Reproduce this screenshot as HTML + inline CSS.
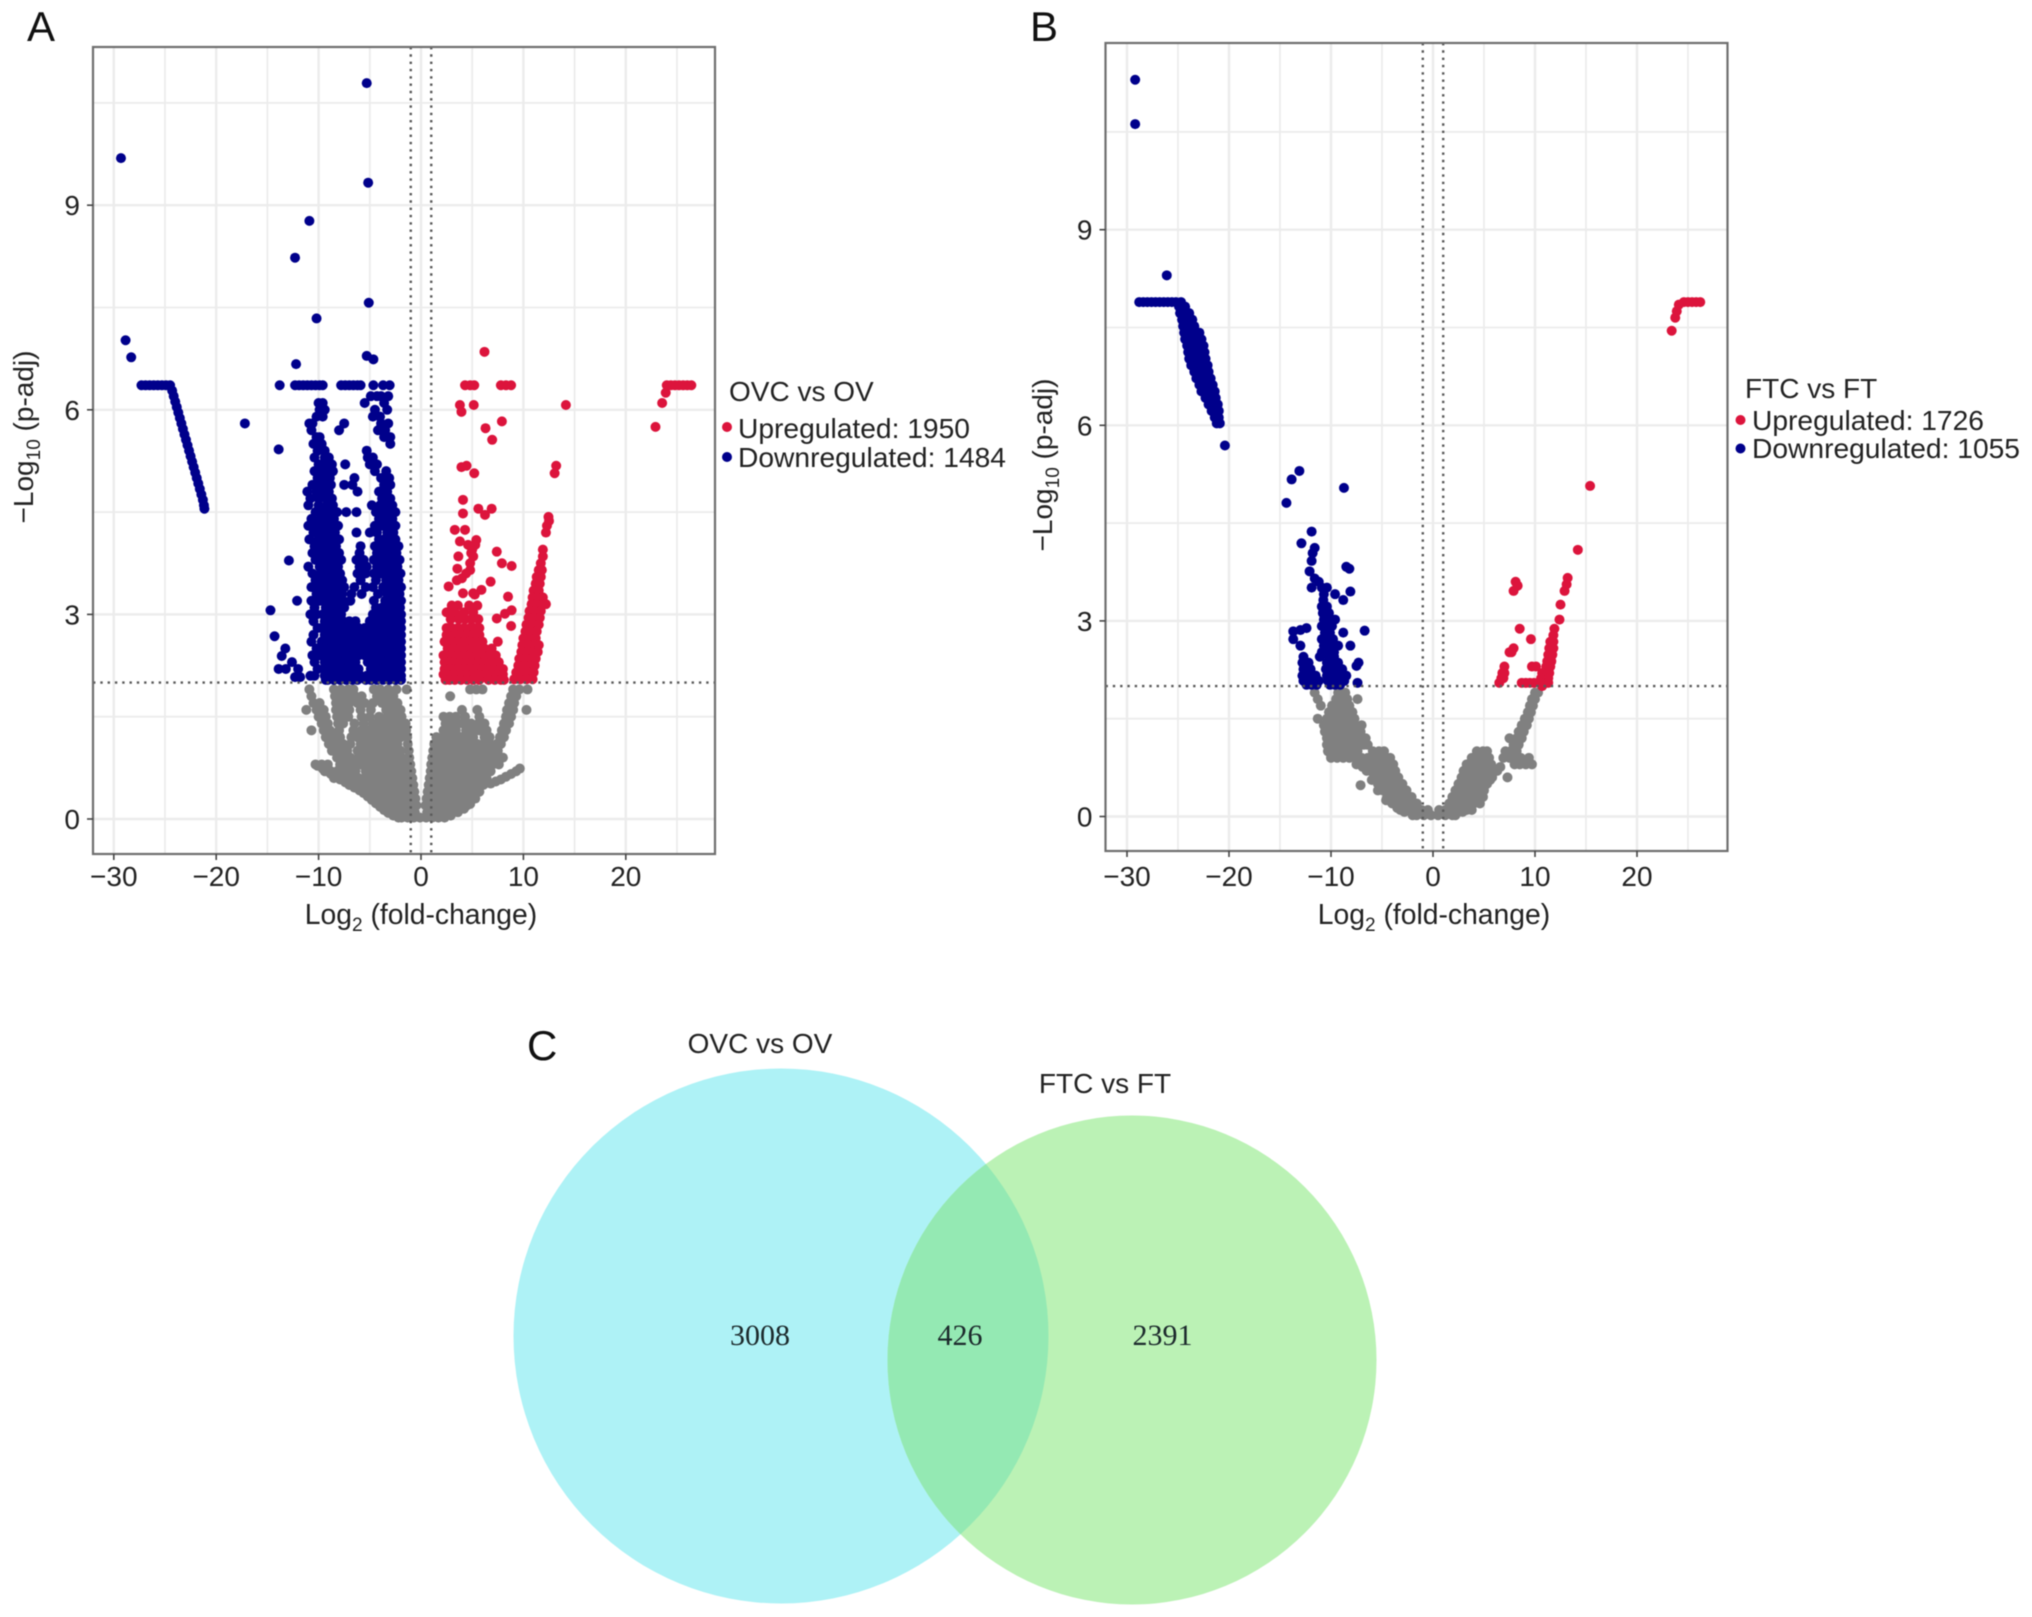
<!DOCTYPE html>
<html>
<head>
<meta charset="utf-8">
<style>
html,body{margin:0;padding:0;background:#fff;}
svg{display:block;font-family:"Liberation Sans",Arial,sans-serif;filter:blur(0.6px);}
</style>
</head>
<body>
<svg id="figure" xmlns="http://www.w3.org/2000/svg" width="2032" height="1617" viewBox="0 0 2032 1617">
<rect width="2032" height="1617" fill="#fff"/>
<g id="panelA"></g>
<g id="panelB"></g>
<text x="27" y="41" font-size="42" fill="#111">A</text>
<text x="1030" y="41" font-size="42" fill="#111">B</text>
<text x="527" y="1060" font-size="42" fill="#111">C</text>

<text x="729" y="401" font-size="28" fill="#222">OVC vs OV</text>
<circle cx="727" cy="427" r="5" fill="#dc143c"/>
<text x="738" y="438" font-size="28.2" fill="#222">Upregulated: 1950</text>
<circle cx="727" cy="457" r="5" fill="#00008b"/>
<text x="738" y="467" font-size="28.2" fill="#222">Downregulated: 1484</text>

<text x="1745" y="398" font-size="28" fill="#222">FTC vs FT</text>
<circle cx="1740.5" cy="420" r="5" fill="#dc143c"/>
<text x="1752" y="430" font-size="28.2" fill="#222">Upregulated: 1726</text>
<circle cx="1740.5" cy="448.5" r="5" fill="#00008b"/>
<text x="1752" y="458" font-size="28.2" fill="#222">Downregulated: 1055</text>

<g>
<defs><clipPath id="vennClip"><circle cx="781" cy="1336" r="267.5"/></clipPath></defs>
<circle cx="781" cy="1336" r="267.5" fill="#aef2f6"/>
<circle cx="1132" cy="1360" r="244.5" fill="#bbf2b5"/>
<circle cx="1132" cy="1360" r="244.5" fill="#94e9b3" clip-path="url(#vennClip)"/>
<text x="760" y="1053" font-size="28" fill="#222" text-anchor="middle">OVC vs OV</text>
<text x="1105" y="1093" font-size="28" fill="#222" text-anchor="middle">FTC vs FT</text>
<text x="760" y="1345" font-size="30" fill="#1c2a2c" text-anchor="middle" style="font-family:'Liberation Serif',serif">3008</text>
<text x="960" y="1345" font-size="30" fill="#1c2a2c" text-anchor="middle" style="font-family:'Liberation Serif',serif">426</text>
<text x="1162.5" y="1345" font-size="30" fill="#1c2a2c" text-anchor="middle" style="font-family:'Liberation Serif',serif">2391</text>
</g>
</svg>
<script>
// Tick and grid values
const xTicks = [-30,-20,-10,0,10,20];
const xGrid = [-30,-25,-20,-15,-10,-5,0,5,10,15,20,25];
const yTicks = [0,3,6,9];
const yGrid = [0,1.5,3,4.5,6,7.5,9,10.5];
const xThresholds = [-1,1];
const yThreshold = [2];

// Each row: first number is -log10(p-adj), the rest are log2(fold-change) values
const aGreyRows = [
[.02,-2.2,-1.9,-1.3,-.7,-.1,.5,1.1,1.7,2.3],
[.05,-2.7,2.9],[.09,-3.2],[.13,-3.6],[.18,-4],[.23,-4.4],[.28,-4.8],[.33,-5.2],[.38,-5.6],[.42,-6],[.46,-6.5],[.5,-7],[.54,-7.4],[.58,-7.9],[.62,-8.4],[.66,-8.8],[.7,-9.2],[.74,-9.6],[.78,-10.1],
[.15,4.2],[.22,4.8],[.3,5.3],[.4,5.7],[.5,6.1],[.6,6.4],
[.1,-3,-2.4,-1.8,-1.2,-.6,.6,1.2,1.8,2.4,3,3.6],
[.2,-4,-3.4,-2.8,-2.2,-1.6,-1,-.45,.45,1,1.6,2.2,2.8,3.4,4,4.5],
[.3,-4.7,-4.1,-3.5,-2.9,-2.3,-1.7,-1.1,-.55,.55,1.1,1.7,2.3,2.9,3.5,4.1,4.7,5.1],
[.4,-5.7,-5.1,-4.5,-3.9,-3.3,-2.7,-2.1,-1.5,-1,-.65,.65,1.2,1.8,2.4,3,3.6,4.2,4.8,5.4],
[.5,-7,-6.4,-5.8,-5.2,-4.6,-4,-3.4,-2.8,-2.2,-1.6,-1.1,-.75,.75,1.3,1.9,2.5,3.1,3.7,4.3,4.9,5.5,5.9],
[.52,6.8],[.55,7.3],[.58,7.8],[.62,8.3],[.66,8.8],[.7,9.3],[.74,9.65],
[.6,-8.5,-7.9,-7.3,-6.7,-6.1,-5.5,-4.9,-4.3,-3.7,-3.1,-2.5,-1.9,-1.3,-.85,.85,1.4,2,2.6,3.2,3.8,4.4,5,5.6,6.2],
[.7,-9.4,-8.8,-8.2,-7.6,-7,-6.4,-5.4,-4.8,-4.2,-3.6,-3,-2.4,-1.8,-1.3,-.95,.95,1.5,2.1,2.7,3.3,3.9,4.5,5.1,5.7,6.3,6.8],
[.8,-10.3,-9.7,-9.1,-7.9,-7.2,-6.5,-5.9,-5.3,-4.7,-4.1,-3.5,-2.9,-2.3,-1.7,-1.05,1,1.6,2.2,2.8,3.4,4,4.6,5.2,5.8,6.4,7,7.6],
[.9,-8.2,-7.5,-6.9,-6.1,-5.5,-4.9,-4.3,-3.7,-3.1,-2.5,-1.9,-1.15,1.1,1.7,2.3,2.9,3.5,4.1,4.7,5.3,5.9,6.5,7.1,7.7,8],
[1,-8.7,-8,-7.2,-6.2,-5.6,-5,-4.4,-3.8,-3.2,-2.6,-2,-1.2,1.2,1.8,2.4,3,3.6,4.2,4.8,5.4,6,6.6,7.1,7.5],
[1.1,-9,-8.3,-7.6,-6.9,-5.9,-5.3,-4.7,-4.1,-3.5,-2.9,-2.3,-1.3,1.3,1.9,2.5,3.1,3.7,4.3,4.9,5.5,6.1,6.7,7.4,7.8],
[1.2,-9.3,-8.6,-7.9,-6.8,-6.2,-5.6,-5,-4.4,-3.8,-3.2,-2.6,-2,-1.35,1.5,2.1,2.7,3.3,3.9,4.5,5.1,6.2,6.7,7.7,8.1],
[1.3,-10.7,-9.5,-8.9,-8,-6.6,-5.8,-5.2,-4.5,-3.9,-3.3,-2.7,-2.1,-1.45,2.2,2.8,3.4,4.4,5,5.7,6.4,7.9,8.3],
[1.4,-9.7,-9.1,-8.1,-7.6,-6.5,-5.6,-4.7,-3.9,-3.2,-2.6,-1.9,-1.5,2.4,3,3.7,4.1,4.9,5.6,6.2,8.1,8.6],
[1.5,-10,-9.3,-8.2,-7.7,-7.1,-5.8,-5,-4.1,-3.3,-2.6,-1.9,2.2,2.8,3.4,4.3,5.7,8.3,8.8],
[1.6,-11.2,-10.2,-9.5,-8.3,-7.6,-7,-5.9,-4.9,-3.4,-2.7,-2,4,5.5,8.4,9,10.3],
[1.7,-10.5,-9.9,-8.3,-7.6,-7,-6.2,-5.5,-4.7,-3.8,-3,-2.3,8.6,9.1],
[1.8,-10.7,-8.4,-7.7,-7.1,-6.4,-5.8,-4.3,-3.5,-2.7,2.85,8.8,9.3],
[1.9,-10.9,-8.5,-7.8,-7.1,-6.6,-4.6,-4,-3.2,-2.4,-1.4,4.8,5.4,6,9,9.6,10.4]
];

const aDownRows = [
[10.79,-5.3],[9.69,-29.3],[9.33,-5.16],[8.77,-10.9],[8.23,-12.3],[7.57,-5.1],[7.34,-10.2],[7.02,-28.85],[6.77,-28.3],[6.79,-5.3],[6.74,-4.65],[6.67,-12.2],
[6.36,-27.3,-26.9,-26.5,-26.1,-25.7,-25.3,-24.9,-24.5,-13.8,-12.3,-11.9,-11.5,-11.1,-10.7,-10.3,-9.9,-9.6,-7.8,-7.4,-7,-6.6,-6.2,-5.9,-4.65,-3.7,-3.06],
[6.28,-24.3],[6.2,-24.15],[6.12,-24],[6.04,-23.85],[5.96,-23.7],[5.88,-23.55],[5.8,-23.4],[5.72,-23.25],[5.64,-23.1],[5.56,-22.95],[5.48,-22.8],[5.4,-22.65],[5.32,-22.5],[5.24,-22.35],[5.16,-22.2],[5.08,-22.05],[5,-21.9],[4.92,-21.75],[4.84,-21.6],[4.76,-21.45],[4.68,-21.3],[4.6,-21.2],[4.55,-21.15],
[5.8,-17.2],[5.42,-13.9],[3.79,-12.9],[3.2,-12.1],[3.06,-14.7],[2.68,-14.3],[2.5,-13.25],[2.39,-13.6],[2.3,-12.6],[2.2,-13.9,-13.2,-12],[2.08,-12.3,-11.8],
[6.2,-4.9,-4.3,-3.9,-3.2],
[6.1,-10,-9.6,-5.5,-3.6],
[6,-9.9,-9.4,-4.5,-3.3],
[5.9,-10.2,-9.6,-4.7,-4],
[5.8,-10.9,-10.6,-7.5,-3.9,-3.2],
[5.7,-10.7,-8,-4.2,-3.5],
[5.6,-10.2,-9.9,-3.6,-3],
[5.5,-10.5,-9.7,-3],
[5.4,-10.1,-9.4,-5.3],
[5.3,-10.4,-9.4,-9,-5.2,-4.7],
[5.2,-10,-9.2,-8.7,-7.4,-5,-4.3],
[5.1,-10.4,-9.8,-9,-8.6,-4.5,-3.4],
[5,-10.1,-9.5,-8.9,-6.5,-3.9,-3.1],
[4.9,-10.6,-9.8,-9.3,-8.8,-7.5,-6.7,-3.6,-3],
[4.8,-11.1,-10.2,-9.5,-9,-6.2,-4.1,-3.3],
[4.7,-10.8,-10,-9.3,-8.7,-3.8,-3],
[4.6,-11,-10,-9.2,-8.6,-4.8,-4,-3.4,-2.8],
[4.5,-10.3,-9.5,-8.9,-8.2,-7.3,-6.3,-4.4,-3.7,-3.1,-2.5],
[4.4,-10.7,-9.8,-9.1,-8.5,-4.1,-3.4,-2.8],
[4.3,-11,-10.2,-9.4,-8.8,-8.1,-4.5,-3.8,-3.1,-2.5],
[4.2,-10.5,-9.7,-9,-8.4,-6.3,-5,-4.3,-3.3,-2.7],
[4.1,-10.9,-10,-9.3,-8.7,-8,-4.1,-3.6,-3,-2.5],
[4,-10.4,-9.6,-9,-8.3,-5.9,-4.5,-4,-3.4,-2.8,-2.2],
[3.9,-10.6,-9.9,-9.2,-8.6,-8,-6,-4.3,-3.7,-3,-2.4],
[3.8,-10.3,-9.6,-9,-8.4,-7.8,-6.3,-5.6,-4.6,-4,-3.3,-2.7,-2.1],
[3.7,-11,-9.9,-9.3,-8.7,-8.1,-6,-5.3,-4.3,-3.6,-3,-2.3],
[3.6,-10.6,-9.8,-9.1,-8.5,-7.9,-6.2,-5.4,-4.6,-3.9,-3.2,-2.6,-2],
[3.5,-10.3,-9.5,-8.9,-8.3,-7.7,-5.9,-4.4,-3.4,-2.8,-2.2],
[3.4,-10.7,-10,-9.3,-8.7,-8.1,-7.5,-6.5,-5.4,-4.7,-3.7,-3,-2.4,-1.95],
[3.3,-10.2,-9.5,-9,-8.4,-7.7,-6.8,-5.8,-4.2,-3.3,-2.7,-2.1],
[3.2,-10.7,-9.9,-9.4,-8.8,-8.2,-7.6,-6.9,-4.6,-3.5,-2.9,-2.3,-1.95],
[3.1,-10.4,-9.3,-8.7,-8.1,-7.5,-4.4,-3.8,-3.2,-2.6,-2.05],
[3,-10.8,-10.2,-9.6,-9,-8.4,-7.8,-4.7,-4.1,-3.5,-2.9,-2.3,-1.95],
[2.9,-10.5,-9.4,-8.8,-8.2,-7.6,-7,-6.4,-5,-4.6,-4,-3.4,-2.8,-2.2,-1.95],
[2.8,-10.1,-9.7,-9.1,-8.5,-7.9,-7.3,-6.7,-6.1,-5.5,-4.9,-4.3,-3.7,-3.1,-2.5,-1.95],
[2.7,-10.5,-9.4,-8.8,-8.2,-7.6,-7,-6.4,-5.8,-5.2,-4.6,-4,-3.4,-2.8,-2.2,-1.95],
[2.6,-10.7,-9.7,-9.1,-8.5,-7.9,-7.3,-6.7,-6.1,-5.5,-4.9,-4.3,-3.7,-3.1,-2.5,-1.95],
[2.5,-10.2,-9.4,-8.8,-8.2,-7.6,-7,-6.4,-5.8,-5.2,-4.6,-4,-3.4,-2.8,-2.2,-1.95],
[2.4,-10.6,-9.9,-9.7,-9.1,-8.5,-7.9,-7.3,-6.7,-6.1,-5.5,-4.9,-4.3,-3.7,-3.1,-2.5,-1.95],
[2.3,-10.4,-9.4,-8.8,-8.2,-7.6,-7,-6.4,-5.2,-4.6,-4,-3.4,-2.8,-2.2,-1.95],
[2.2,-10.1,-9.5,-9.1,-8.5,-7.9,-7.3,-6.7,-6.1,-4.9,-4.3,-3.7,-3.1,-2.5,-1.95],
[2.1,-10.8,-10.4,-9.4,-8.8,-8.2,-7.6,-7,-6.4,-5.9,-5.3,-4.6,-4,-3.4,-2.8,-2.2,-1.95],
[2.04,-9.3,-9.1,-8.5,-7.9,-7.3,-6.7,-6.2,-5.4,-4.9,-4.3,-3.7,-3.1,-2.5,-1.95]
];

const aUpRows = [
[6.85,6.2],[6.36,4.3,4.8,5.2,7.8,8.3,8.8,24,24.4,24.8,25.2,25.6,26,26.4],[6.25,23.9],[6.1,23.55],[6.07,3.8,5.15,14.15],[5.97,3.95],[5.83,7.9],[5.75,22.9],[5.73,6.3],[5.56,6.95],
[5.18,4.45,13.2],[5.16,3.95],[5.07,5.2,13.05],
[4.68,4.1],[4.55,5.6,6.9],[4.48,4.1],[4.46,6.25],[4.43,12.45],[4.37,12.5],[4.3,12.3],[4.24,3.3,4.3],[4.2,12.2],[4.09,5.4],[4.07,3.8],[4.02,4.6,5.3],
[3.95,11.9,5],[3.92,7.4],[3.9,4.9],[3.85,3.65,11.9,5.1],[3.75,4.8,7.9,11.7],[3.71,8.85],[3.67,3.55],[3.65,4.8,11.5,11.8],[3.6,4.4],[3.55,11.3,11.7],[3.53,4],[3.5,3.5],[3.48,6.8],[3.45,11.2,11.6],[3.41,2.7],[3.36,5.9],[3.35,11,11.5],[3.31,4.1,5.1],[3.29,5.25],[3.26,8.5],[3.25,10.9,11.4,11.9],
[3.15,10.8,11.3,11.9,12.2],[3.06,8.85],[3.05,10.6,11.2,11.7],[3.01,8.2],[2.95,10.5,11,11.6],[2.94,7.4],[2.85,10.3,10.9,11.5],[2.83,8.8],[2.75,10.2,10.8,11.3],[2.65,10,10.6,11.2],[2.55,9.9,10.5,11.1,11.5],[2.45,9.8,10.4,11,11.4],[2.35,9.6,10.2,10.8,11.2],[2.25,9.5,10.1,10.7,11.1],[2.15,9.3,9.9,10.5,11],[2.05,9.1,9.7,10.3,10.9],
[3.13,3,3.6,4.7,5.5],
[3.03,2.5,3.3,4.2,5.1],
[2.93,2.9,3.7,4.3,4.9,5.6],
[2.8,2.5,3,3.6,4.2,4.8,5.2,5.7],
[2.7,2.5,3.3,3.9,4.5,5.1,5.7],
[2.6,2.3,3,3.6,4.2,4.8,5.4,6,7.5],
[2.5,2.6,3.2,3.8,4.4,5,5.6,6.2,6.9],
[2.4,2.2,2.6,3,3.6,4.2,4.8,5.4,6,6.7,7.3],
[2.3,2.3,2.8,3.2,3.8,4.4,5,5.6,6.2,6.9,7.6],
[2.2,2.3,2.8,3.3,3.6,4.2,4.8,5.4,6,6.5,7.1,7.7,8],
[2.12,2.2,2.5,3.2,3.8,4.4,5,5.6,6.3,6.9,7.5,8],
[2.04,2.4,2.8,3.3,3.9,4.5,5.1,5.7,6.6,7.2,7.8,8.1]
];

const bGreyRows = [
[.02,-2,-1.6,-.9,-.2,.5,1.2,1.9,2.2],
[.07,-2.8,2.9],[.13,-3.5,3.5],[.25,-4.6,4.3],[.4,-5.4],[.56,-6,5.6],[.7,-6.5,6.3],[.76,-6.9,6.6],
[.1,-3.2,-2.5,-1.8,-1.1,-.5,.6,1.2,1.9,2.6,3.3,3.8],
[.2,-4,-3.4,-2.8,-2.2,-1.6,1.6,2.2,2.8,3.4,4,4.6],
[.3,-4.5,-3.9,-3.3,-2.7,-2.1,1.9,2.5,3.1,3.7,4.3,4.9],
[.4,-4.9,-4.3,-3.7,-3.1,-2.6,2.2,2.8,3.4,4,4.6,5],
[.48,-7.1],
[.5,-5.4,-4.8,-4.2,-3.6,-3,2.5,3.1,3.7,4.3,4.9,5.3],
[.6,-5.8,-5.2,-4.6,-4,-3.4,2.8,3.4,4,4.6,5.2,5.8,7.3],
[.7,-6.1,-5.5,-4.9,-4.3,-3.7,3,3.6,4.2,4.8,5.4,6.1],
[.8,-7.5,-6.9,-6.3,-5.7,-5.1,-4.4,-3.9,3.3,3.9,4.5,5.1,5.7,8,8.5,9.1,9.7],
[.9,-10,-9.4,-8.8,-8.2,-7.6,-7,-6.4,-5.8,-5.2,-4.6,-4.2,3.8,4.4,5,5.5,6.9,7.5,8,8.6,9.4],
[1,-10.3,-9.8,-9.2,-8.6,-8,-7.4,-5.9,-5.3,-4.8,4.3,4.9,5.3,7.1,7.6,8.2],
[1.1,-10.4,-9.8,-9.2,-8.6,-8,-7.4,-6.8,-6.4,7.9,8.4],
[1.2,-10.4,-9.8,-9.2,-8.6,-8,-7.5,-7,-6.6,7.5,8.2,8.7],
[1.3,-10.6,-10,-9.4,-8.8,-8.2,-7.6,-7.1,8.4,8.9],
[1.4,-10.7,-10.1,-9.5,-8.9,-8.3,-7.8,-7,8.7,9.2],
[1.5,-11.3,-10.4,-9.8,-9.2,-8.6,-8,-7.7,9,9.4],
[1.6,-10.2,-9.6,-9,-8.4,-7.9,9.3,9.6],
[1.7,-11,-9.9,-9.3,-8.7,-8.2,9.5,9.8],
[1.8,-11.3,-9.5,-9,-8.4,-7.4,9.7,10],
[1.9,-11.6,-9.3,-8.9,-8.6,10,10.3]
];

const bDownRows = [
[11.3,-29.2],[10.62,-29.2],[8.3,-26.1],
[7.89,-28.8,-28.4,-28,-27.6,-27.2,-26.8,-26.4,-26,-25.6,-25.2,-24.7],
[7.82,-24.9,-24.3],[7.72,-24.8,-24.3,-23.9],[7.62,-24.6,-24.1,-23.6],[7.52,-24.5,-24,-23.4],[7.42,-24.4,-23.9,-23.3,-22.9],[7.32,-24.3,-23.7,-23.2,-22.7],[7.22,-24.1,-23.5,-23,-22.5],[7.12,-24,-23.4,-22.9,-22.4],[7.02,-23.9,-23.3,-22.7,-22.3],[6.92,-23.7,-23.1,-22.6,-22.1],[6.82,-23.4,-22.9,-22.4,-22],[6.72,-23.2,-22.7,-22.2,-21.8],[6.62,-22.9,-22.5,-22,-21.6],[6.52,-22.7,-22.2,-21.7,-21.4],[6.42,-22.3,-21.8,-21.3],[6.32,-22,-21.6,-21.1],[6.22,-21.7,-21.3,-21],[6.12,-21.4,-21],[6.03,-21.2,-20.9],
[5.69,-20.4],[5.3,-13.1],[5.17,-13.86],[5.04,-8.73],[4.81,-14.37],
[4.37,-11.9],[4.19,-12.9],[4.12,-11.6],[4.04,-11.8],[3.92,-11.9],[3.83,-8.5],[3.8,-8.2],[3.76,-12.1],[3.65,-11.6],[3.6,-11.2],[3.51,-11.9,-10.9,-10.4],[3.45,-8.1],[3.41,-9.6,-10.7],[3.32,-8.8,-10.75],[3.22,-10.9,-10.4],[3.12,-10.8,-10.2],[3.02,-10.7,-10.1,-9.6],[2.92,-10.9,-10.3,-9.9],
[2.89,-12.4],[2.86,-13],[2.85,-6.7],[2.84,-13.7],[2.82,-10.6,-10.1,-8.8],[2.72,-13.7,-10.9,-10.3,-9.8],[2.62,-13,-10.7,-10.2,-9.3,-8.1],[2.52,-10.9,-10.3,-9.7],[2.45,-12.7,-11.1,-10.2,-9.7],
[2.36,-12.8,-12.2,-10.4,-9.9,-9.3,-7.3],[2.31,-7.5],[2.26,-12.7,-12,-10.5,-9.9,-9.3,-8.9],[2.16,-12.8,-12.1,-11.5,-10.4,-9.8,-9.2,-8.5],[2.08,-12.7,-12.2,-11.6,-11.2,-10.3,-9.7,-9.1,-8.7],[2.05,-7.4],[2.02,-12.4,-11.9,-11.4,-10.1,-9.6,-9.1]
];

const bUpRows = [
[7.89,24.6,25,25.4,25.8,26.2],[7.85,24.1],[7.75,23.9],[7.65,23.75],[7.45,23.4],
[5.07,15.4],[4.09,14.2],[3.66,13.2],[3.6,8.1],[3.56,13.1],[3.54,8.3],[3.46,12.9,7.9],[3.25,12.5],[3.02,12.4],[2.88,8.5,11.9],[2.78,11.8],[2.72,9.6],[2.68,11.5,11.8],[2.58,11.4,11.8,7.9],[2.52,7.5,7.7],[2.48,11.3,11.7],[2.38,11.2,11.6],
[2.3,7,9.7,10.1,11.1,11.5],[2.2,6.8,7,10.7,11.4],[2.12,6.7,6.9,10.6,11,11.3],[2.05,6.5,8.7,9.1,9.5,9.9,10.6,11,11.3],[2,10.7]
];

const NS = 'http://www.w3.org/2000/svg';
function mk(tag, attrs, parent) {
  const n = document.createElementNS(NS, tag);
  for (const k in attrs) n.setAttribute(k, attrs[k]);
  parent.appendChild(n);
  return n;
}
function fmt(v) { return v < 0 ? '\u2212' + Math.abs(v) : String(v); }

function drawPanel(root, box, grey, down, up, yTitleCy, xTitleCx) {
  const sx = v => box.x0 + v * box.xu;
  const sy = v => box.y0 - v * box.yu;
  const bg = mk('rect', {x: box.l, y: box.t, width: box.r - box.l, height: box.b - box.t, fill: '#fff'}, root);
  
  
  xGrid.forEach((v, i) => {
    const g = mk('line', {x1: sx(v), x2: sx(v), y1: box.t, y2: box.b, stroke: '#ececec', 'stroke-width': i % 2 ? 1.8 : 2.4}, root);
    
    
  });
  yGrid.forEach((v, i) => {
    const g = mk('line', {x1: box.l, x2: box.r, y1: sy(v), y2: sy(v), stroke: '#ececec', 'stroke-width': i % 2 ? 1.8 : 2.4}, root);
    
    
  });
  const series = [[grey, '#808080', 'not-significant-point'], [down, '#00008b', 'downregulated-point'], [up, '#dc143c', 'upregulated-point']];
  series.forEach(s => {
    const gp = mk('g', {fill: s[1]}, root);
    
    
    s[0].forEach(row => {
      for (let i = 1; i < row.length; i++) {
        const c = mk('circle', {cx: sx(row[i]), cy: sy(row[0]), r: 5}, gp);
        
        
      }
    });
  });
  xThresholds.forEach(v => {
    const l = mk('line', {x1: sx(v), x2: sx(v), y1: box.t, y2: box.b, stroke: '#5a5a5a', 'stroke-width': 2.4, 'stroke-dasharray': '2.4 4.9'}, root);
    
    
  });
  yThreshold.forEach(v => {
    const l = mk('line', {x1: box.l, x2: box.r, y1: sy(v), y2: sy(v), stroke: '#5a5a5a', 'stroke-width': 2.4, 'stroke-dasharray': '2.4 4.9'}, root);
    
    
  });
  const fr = mk('rect', {x: box.l, y: box.t, width: box.r - box.l, height: box.b - box.t, fill: 'none', stroke: '#6e6e6e', 'stroke-width': 2.2}, root);
  
  
  xTicks.forEach(v => {
    const t = mk('line', {x1: sx(v), x2: sx(v), y1: box.b, y2: box.b + 6, stroke: '#444', 'stroke-width': 1.6}, root);
    
    
    const tx = mk('text', {x: sx(v), y: box.xLabelY, 'font-size': 28, fill: '#222', 'text-anchor': 'middle'}, root);
    tx.textContent = fmt(v);
    
    
  });
  yTicks.forEach(v => {
    const t = mk('line', {x1: box.l - 6, x2: box.l, y1: sy(v), y2: sy(v), stroke: '#444', 'stroke-width': 1.6}, root);
    
    
    const tx = mk('text', {x: box.l - 13, y: sy(v) + 10, 'font-size': 28, fill: '#222', 'text-anchor': 'end'}, root);
    tx.textContent = fmt(v);
    
    
  });
  const xt = mk('text', {x: xTitleCx, y: box.xTitleY, 'font-size': 28.3, fill: '#222', 'text-anchor': 'middle'}, root);
  
  
  xt.innerHTML = 'Log<tspan font-size="19" dy="7">2</tspan><tspan dy="-7"> (fold-change)</tspan>';
  const yt = mk('text', {x: 0, y: 0, 'font-size': 28, fill: '#222', 'text-anchor': 'middle', transform: 'translate(' + box.yTitleX + ' ' + yTitleCy + ') rotate(-90)'}, root);
  
  
  yt.innerHTML = '\u2212Log<tspan font-size="19" dy="7">10</tspan><tspan dy="-7"> (p-adj)</tspan>';
}

drawPanel(document.getElementById('panelA'),
  {l: 93, r: 715, t: 47, b: 854, x0: 421, xu: 10.24, y0: 819, yu: 68.2, xLabelY: 886, xTitleY: 924, yTitleX: 33},
  aGreyRows, aDownRows, aUpRows, 437, 421);
drawPanel(document.getElementById('panelB'),
  {l: 1105.5, r: 1727.5, t: 43, b: 851, x0: 1433, xu: 10.2, y0: 816.5, yu: 65.2, xLabelY: 886, xTitleY: 924, yTitleX: 1052},
  bGreyRows, bDownRows, bUpRows, 465, 1434);
</script>
</body>
</html>
